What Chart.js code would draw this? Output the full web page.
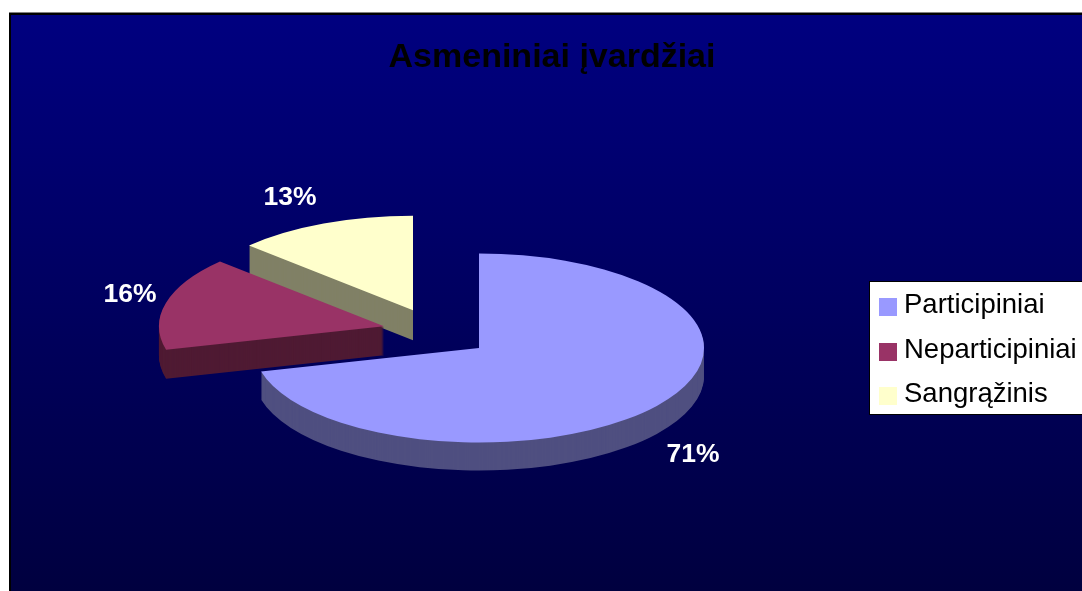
<!DOCTYPE html>
<html>
<head>
<meta charset="utf-8">
<title>Asmeniniai įvardžiai</title>
<script src="https://cdn.jsdelivr.net/npm/chart.js@4"></script>
<style>
    html, body { margin: 0; padding: 0; background: #fff; overflow: hidden; }
    #wrap { position: relative; width: 1082px; height: 591px; }
    #pie { position: absolute; left: 0; top: 0; }
    #legend {
        position: absolute; left: 869px; top: 281px; width: 213px; height: 134px;
        box-sizing: border-box; border: 1px solid #000; border-right: 0;
        background: #fff; padding-top: 4px;
        font-family: "Liberation Sans", Arial, sans-serif; font-size: 27.5px; color: #000;
    }
    #legend div { height: 44.5px; line-height: 44.5px; position: relative; padding-left: 34px; white-space: nowrap; top: -4px; }
    #legend i { position: absolute; left: 9px; top: 16px; width: 18px; height: 18px; }
</style>
</head>
<body>
<div id="wrap">
    <canvas id="pie" width="1082" height="591"></canvas>
    <div id="legend"></div>
</div>
<script>
const kategorijos = ['Participiniai', 'Neparticipiniai', 'Sangrąžinis'];
const reiksmes = [71, 16, 13];
const spalvos = ['#9999ff', '#993366', '#ffffcc'];
const sonoSpalvos = ['#4f4f80', '#4f1a33', '#808066'];

// pseudo 3D: pie is squashed and every slice gets its own shift
const pieX = 479;
const pieY = 348;
const squash = 0.42;
const poslinkis = [[0, 0], [-95, -52], [-66, -90]];
const gylis = [28, 29, 30];
const tekstoVieta = [[693, 455], [130, 295], [290, 198]];
const piesimoTvarka = [2, 0, 1];

const fonas = {
    id: 'fonas',
    beforeDraw(chart) {
        const ctx = chart.ctx;
        ctx.save();
        ctx.fillStyle = '#808080';
        ctx.fillRect(9, 12, 1073, 1);
        const g = ctx.createLinearGradient(0, 13, 0, 591);
        g.addColorStop(0, '#000080');
        g.addColorStop(1, '#00003f');
        ctx.fillStyle = g;
        ctx.fillRect(9, 13, 1073, 578);
        ctx.fillStyle = '#000';
        ctx.fillRect(9, 13, 1073, 2);
        ctx.fillRect(9, 13, 2, 578);
        ctx.restore();
    }
};

const pie3d = {
    id: 'pie3d',
    beforeDatasetDraw(chart, args) {
        const ctx = chart.ctx;
        const arcs = args.meta.data;
        piesimoTvarka.forEach(i => {
            const arc = arcs[i];
            const pos = poslinkis[i];
            const uzdeti = dy => {
                ctx.save();
                ctx.translate(pieX + pos[0], pieY + pos[1] * squash + dy);
                ctx.scale(1, squash);
                ctx.translate(-arc.x, -arc.y);
                arc.draw(ctx);
                ctx.restore();
            };
            // side wall: same slice repeated downwards in the dark colour
            const virsus = arc.options;
            arc.options = Object.create(virsus);
            arc.options.backgroundColor = sonoSpalvos[i];
            for (let dy = gylis[i]; dy > 0; dy--) {
                uzdeti(dy);
            }
            arc.options = virsus;
            uzdeti(0);
        });
        return false;
    },
    afterDatasetsDraw(chart) {
        const ctx = chart.ctx;
        ctx.save();
        ctx.fillStyle = '#fff';
        ctx.font = 'bold 26.5px "Liberation Sans", Arial, sans-serif';
        ctx.textAlign = 'center';
        ctx.textBaseline = 'middle';
        reiksmes.forEach((v, i) => {
            ctx.fillText(v + '%', tekstoVieta[i][0], tekstoVieta[i][1]);
        });
        ctx.restore();
    }
};

const ctxPie = document.getElementById('pie').getContext('2d');
new Chart(ctxPie, {
    type: 'pie',
    data: {
        labels: kategorijos,
        datasets: [{
            data: reiksmes,
            backgroundColor: spalvos,
            borderWidth: 0,
            radius: 225
        }]
    },
    options: {
        responsive: false,
        animation: false,
        layout: { padding: { left: 22 } },
        plugins: {
            legend: { display: false },
            tooltip: { enabled: false },
            title: {
                display: true,
                text: 'Asmeniniai įvardžiai',
                color: '#000',
                font: { family: '"Liberation Sans", Arial, sans-serif', size: 34, weight: 'bold' },
                padding: { top: 37, bottom: 10 }
            }
        }
    },
    plugins: [fonas, pie3d]
});

// legend as html, so the box can sit exactly where it sits in the picture
const legendBox = document.getElementById('legend');
kategorijos.forEach((nm, i) => {
    const row = document.createElement('div');
    const mark = document.createElement('i');
    mark.style.background = spalvos[i];
    row.appendChild(mark);
    row.appendChild(document.createTextNode(nm));
    legendBox.appendChild(row);
});
</script>
</body>
</html>
